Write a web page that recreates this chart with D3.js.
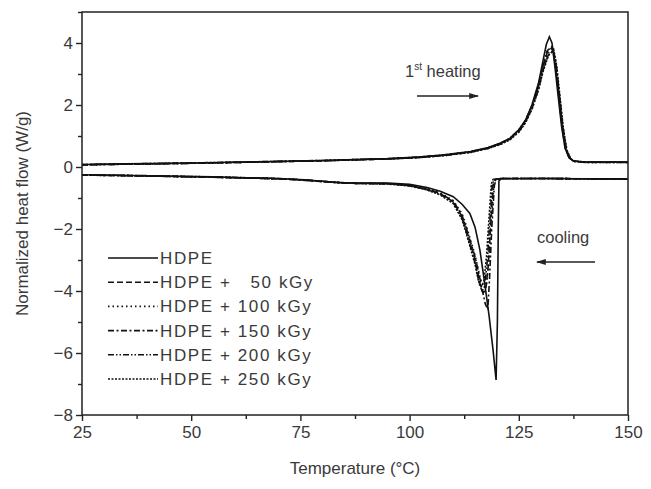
<!DOCTYPE html>
<html><head><meta charset="utf-8">
<script src="https://cdn.jsdelivr.net/npm/d3@7/dist/d3.min.js"></script>
<style>body{margin:0;background:#fff}text{font-family:"Liberation Sans",Arial,sans-serif;fill:#3a3a3a}</style>
</head><body><svg id="c" width="651" height="489"></svg>
<script>
const seriesNames = ["HDPE","HDPE +   50 kGy","HDPE + 100 kGy","HDPE + 150 kGy","HDPE + 200 kGy","HDPE + 250 kGy"];
const xTicks = [25,50,75,100,125,150];
const yTicks = [-8,-6,-4,-2,0,2,4];

const heatHDPE = [[25,0.08],[35,0.1],[50,0.13],[65,0.17],[80,0.21],[95,0.27],[102,0.32],[108,0.39],[114,0.5],[118,0.63],[121,0.78],[123,0.93],[125,1.2],[126.5,1.5],[128,2.0],[129.5,2.7],[130.5,3.4],[131.3,3.95],[132,4.2],[132.6,4.0],[133.3,3.2],[134,2.3],[134.8,1.3],[135.6,0.6],[136.5,0.3],[137.5,0.2],[140,0.16],[150,0.16]];
const heat50 = [[25,0.07],[35,0.09],[50,0.12],[65,0.16],[80,0.2],[95,0.26],[102,0.31],[108,0.38],[114,0.49],[118,0.62],[121,0.77],[123,0.92],[125,1.18],[126.5,1.48],[128,1.95],[129.5,2.6],[130.5,3.2],[131.5,3.7],[132.6,3.85],[133.3,3.4],[134,2.5],[134.8,1.4],[135.6,0.62],[136.5,0.3],[137.5,0.19],[140,0.16],[150,0.15]];
const heat100 = [[25,0.08],[35,0.1],[50,0.12],[65,0.16],[80,0.21],[95,0.27],[102,0.31],[108,0.38],[114,0.48],[118,0.61],[121,0.76],[123,0.9],[125,1.15],[126.5,1.45],[128,1.9],[129.5,2.55],[130.5,3.15],[131.6,3.65],[132.8,3.8],[133.5,3.3],[134.2,2.4],[135,1.35],[135.8,0.6],[136.7,0.28],[137.7,0.18],[140,0.16],[150,0.15]];
const heat150 = [[25,0.07],[35,0.09],[50,0.12],[65,0.16],[80,0.2],[95,0.26],[102,0.3],[108,0.37],[114,0.48],[118,0.6],[121,0.75],[123,0.9],[125,1.14],[126.5,1.44],[128,1.88],[129.5,2.5],[130.5,3.1],[131.7,3.6],[132.9,3.75],[133.6,3.25],[134.3,2.35],[135.1,1.3],[135.9,0.58],[136.8,0.27],[137.8,0.18],[140,0.15],[150,0.15]];
const heat200 = [[25,0.08],[35,0.1],[50,0.13],[65,0.17],[80,0.21],[95,0.27],[102,0.32],[108,0.39],[114,0.5],[118,0.62],[121,0.78],[123,0.93],[125,1.2],[126.5,1.5],[128,1.97],[129.5,2.65],[130.5,3.25],[131.5,3.75],[132.7,3.9],[133.4,3.45],[134.1,2.5],[134.9,1.4],[135.7,0.62],[136.6,0.3],[137.6,0.19],[140,0.16],[150,0.16]];
const heat250 = [[25,0.07],[35,0.09],[50,0.12],[65,0.16],[80,0.2],[95,0.26],[102,0.3],[108,0.37],[114,0.47],[118,0.6],[121,0.74],[123,0.88],[125,1.12],[126.5,1.42],[128,1.85],[129.5,2.48],[130.5,3.05],[131.8,3.6],[133,3.78],[133.7,3.25],[134.4,2.3],[135.2,1.25],[136,0.55],[136.9,0.26],[137.9,0.18],[140,0.15],[150,0.15]];

const coolHDPE = [[25,-0.25],[40,-0.28],[55,-0.32],[70,-0.37],[76,-0.41],[80,-0.46],[84,-0.5],[88,-0.52],[95,-0.52],[100,-0.56],[104,-0.66],[107,-0.78],[110,-0.96],[112,-1.2],[113.8,-1.5],[115,-1.95],[116.1,-2.68],[117.3,-3.86],[118.2,-4.8],[119.1,-5.9],[119.8,-6.87],[120.1,-5.0],[120.3,-2.0],[120.45,-0.45],[121,-0.38],[130,-0.37],[140,-0.38],[150,-0.39]];
const cool50 = [[25,-0.26],[40,-0.29],[55,-0.33],[70,-0.38],[76,-0.42],[80,-0.47],[84,-0.51],[88,-0.53],[95,-0.54],[100,-0.6],[104,-0.72],[107,-0.86],[110,-1.12],[112,-1.6],[113,-2.03],[115,-3.0],[116.1,-3.75],[116.8,-4.05],[117.4,-4.0],[118.0,-3.2],[118.6,-1.8],[119.1,-0.6],[119.5,-0.4],[121,-0.37],[130,-0.37],[150,-0.39]];
const cool100 = [[25,-0.25],[40,-0.28],[55,-0.33],[70,-0.38],[76,-0.42],[80,-0.46],[84,-0.5],[88,-0.53],[95,-0.54],[100,-0.59],[104,-0.7],[107,-0.84],[110,-1.08],[112,-1.5],[113,-1.9],[115,-2.85],[116.2,-3.6],[117,-3.9],[117.6,-3.8],[118.2,-3.0],[118.8,-1.6],[119.3,-0.55],[119.7,-0.4],[121,-0.37],[130,-0.37],[150,-0.39]];
const cool150 = [[25,-0.26],[40,-0.29],[55,-0.33],[70,-0.38],[76,-0.43],[80,-0.47],[84,-0.51],[88,-0.53],[95,-0.54],[100,-0.6],[104,-0.71],[107,-0.85],[110,-1.1],[112,-1.55],[113,-1.98],[115,-2.9],[116.4,-3.8],[117.3,-4.4],[117.9,-4.6],[118.3,-3.6],[118.8,-2.0],[119.4,-0.6],[119.8,-0.4],[121,-0.37],[130,-0.37],[150,-0.39]];
const cool200 = [[25,-0.25],[40,-0.28],[55,-0.32],[70,-0.37],[76,-0.42],[80,-0.46],[84,-0.5],[88,-0.52],[95,-0.53],[100,-0.6],[104,-0.73],[107,-0.88],[110,-1.15],[112,-1.65],[113,-2.1],[115,-3.1],[116.0,-3.8],[116.6,-4.0],[117.2,-3.85],[117.8,-3.0],[118.4,-1.7],[118.9,-0.6],[119.3,-0.4],[121,-0.37],[130,-0.37],[150,-0.39]];
const cool250 = [[25,-0.26],[40,-0.29],[55,-0.33],[70,-0.38],[76,-0.42],[80,-0.47],[84,-0.51],[88,-0.53],[95,-0.55],[100,-0.61],[104,-0.74],[107,-0.9],[110,-1.18],[112,-1.7],[113,-2.15],[115,-3.15],[115.8,-3.7],[116.4,-3.85],[117.0,-3.7],[117.6,-2.9],[118.2,-1.6],[118.7,-0.55],[119.1,-0.4],[121,-0.37],[130,-0.37],[150,-0.39]];

const heating = [heatHDPE,heat50,heat100,heat150,heat200,heat250];
const cooling = [coolHDPE,cool50,cool100,cool150,cool200,cool250];
const dashes = [null,"6,3","1.5,3","6,2.5,2,2.5","6,2,1.5,2,1.5,2","2,1.5"];

const svg = d3.select("#c");
const L=82,R=628,T=12,B=415;
const x = d3.scaleLinear().domain([25,150]).range([L,R]);
const y = d3.scaleLinear().domain([-8,5]).range([B,T]);
const line = d3.line().x(d=>x(d[0])).y(d=>y(d[1]));

svg.append("clipPath").attr("id","pc").append("rect").attr("x",L).attr("y",T).attr("width",R-L).attr("height",B-T);
const g = svg.append("g").attr("clip-path","url(#pc)");
[heating,cooling].forEach(set=>{
  set.forEach((d,i)=>{
    g.append("path").attr("d",line(d)).attr("fill","none").attr("stroke","#111")
      .attr("stroke-width",1.6).attr("stroke-dasharray",dashes[i]);
  });
});

// axes
const xAxis = d3.axisBottom(x).tickValues(xTicks).tickSize(6).tickPadding(5).tickFormat(d3.format("d"));
const xMinor = d3.axisBottom(x).tickValues(d3.range(37.5,150,25)).tickSize(4).tickFormat("");
const yAxis = d3.axisLeft(y).tickValues(yTicks).tickSize(6).tickPadding(3);
const yMinor = d3.axisLeft(y).tickValues([-7,-5,-3,-1,1,3,5]).tickSize(4).tickFormat("");
function style(sel){sel.select(".domain").remove();sel.selectAll("line").attr("stroke","#222").attr("stroke-width",1.4);sel.selectAll("text").attr("font-size",17).attr("fill","#3a3a3a").style("font-family","Liberation Sans, Arial, sans-serif");}
svg.append("g").attr("transform",`translate(0,${B})`).call(xAxis).call(style);
svg.append("g").attr("transform",`translate(0,${B})`).call(xMinor).call(style);
svg.append("g").attr("transform",`translate(${L},0)`).call(yAxis).call(style);
svg.append("g").attr("transform",`translate(${L},0)`).call(yMinor).call(style);
svg.append("rect").attr("x",L).attr("y",T).attr("width",R-L).attr("height",B-T).attr("fill","none").attr("stroke","#222").attr("stroke-width",1.5);

svg.append("text").attr("x",(L+R)/2).attr("y",474).attr("text-anchor","middle").attr("font-size",17).text("Temperature (°C)");
svg.append("text").attr("transform",`translate(28,${(T+B)/2}) rotate(-90)`).attr("text-anchor","middle").attr("font-size",17).text("Normalized heat flow (W/g)");

// annotations
const ht = svg.append("text").attr("x",405).attr("y",77).attr("font-size",16.5);
ht.append("tspan").text("1");
ht.append("tspan").attr("font-size",10).attr("dy",-7).text("st");
ht.append("tspan").attr("dy",7).text(" heating");
const defs = svg.append("defs");
defs.append("marker").attr("id","ah").attr("viewBox","0 0 10 10").attr("refX",9).attr("refY",5).attr("markerWidth",7).attr("markerHeight",7).attr("orient","auto-start-reverse")
  .append("path").attr("d","M0,2 L10,5 L0,8 Z").attr("fill","#222");
svg.append("line").attr("x1",417).attr("x2",478).attr("y1",96).attr("y2",96).attr("stroke","#222").attr("stroke-width",1.4).attr("marker-end","url(#ah)");
svg.append("text").attr("x",537).attr("y",243).attr("font-size",16.5).text("cooling");
svg.append("line").attr("x1",595).attr("x2",537).attr("y1",262).attr("y2",262).attr("stroke","#222").attr("stroke-width",1.4).attr("marker-end","url(#ah)");

// legend
const lg = svg.append("g");
seriesNames.forEach((n,i)=>{
  const yy = 258 + i*24.2;
  lg.append("line").attr("x1",108).attr("x2",158).attr("y1",yy).attr("y2",yy).attr("stroke","#111").attr("stroke-width",1.6).attr("stroke-dasharray",dashes[i]);
  lg.append("text").attr("x",160).attr("y",yy+6).attr("font-size",17).attr("letter-spacing",1.6).attr("xml:space","preserve").style("white-space","pre").text(n);
});
</script></body></html>
